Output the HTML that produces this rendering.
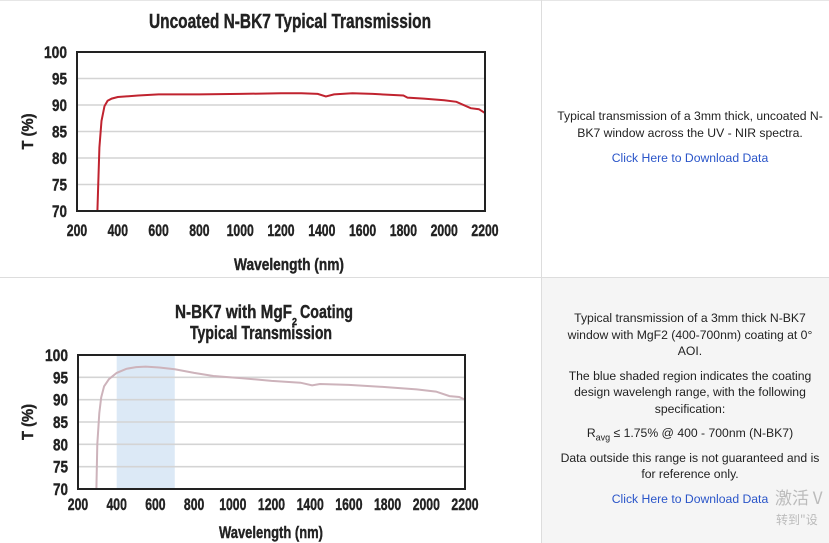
<!DOCTYPE html>
<html><head><meta charset="utf-8"><style>
body{margin:0;width:829px;height:543px;background:#fff;position:relative;overflow:hidden;font-family:"Liberation Sans",sans-serif}
.p{position:absolute;text-align:center;font-size:12.2px;color:#222;line-height:16.5px}
.p p{margin:0 0 8px 0}
sub{font-size:9px;line-height:0}
a{color:#2a55c9;text-decoration:none}
</style></head><body>
<div style="position:absolute;left:0;top:0;width:829px;height:1px;background:#e6e6e6"></div>
<div style="position:absolute;left:0;top:277px;width:829px;height:1px;background:#ddd"></div>
<div style="position:absolute;left:541px;top:0;width:1px;height:543px;background:#ddd"></div>
<div style="position:absolute;left:542px;top:278px;width:287px;height:265px;background:#f5f5f5"></div>
<div class="p" style="top:108px;left:552px;width:276px;">Typical transmission of a 3mm thick, uncoated N-BK7 window across the UV - NIR spectra.<p style="margin-top:9px"><a>Click Here to Download Data</a></p></div>
<div class="p" style="top:310px;left:558px;width:264px">
<p>Typical transmission of a 3mm thick N-BK7 window with MgF2 (400-700nm) coating at 0° AOI.</p>
<p>The blue shaded region indicates the coating design wavelengh range, with the following specification:</p>
<p>R<sub>avg</sub> ≤ 1.75% @ 400 - 700nm (N-BK7)</p>
<p>Data outside this range is not guaranteed and is for reference only.</p>
<p><a>Click Here to Download Data</a></p></div>
<div style="position:absolute;left:775px;top:484px;font-size:17px;color:#bbb;font-family:'Noto Sans CJK SC',sans-serif">激活 V</div>
<div style="position:absolute;left:776px;top:511px;font-size:12px;color:#bbb;font-family:'Noto Sans CJK SC',sans-serif">转到"设</div>
<svg id="s" width="829" height="543" style="position:absolute;left:0;top:0" font-family="Liberation Sans, sans-serif" font-weight="bold" fill="#222" stroke="#222" stroke-width="0.4"></svg>
<script>
const s=document.getElementById('s');let h='';
function T(x,y,fs,len,txt,anc){return `<text x="${x}" y="${y}" ${anc?'text-anchor="'+anc+'"':''} font-size="${fs}" textLength="${len}" lengthAdjust="spacingAndGlyphs">${txt}</text>`;}
function chart(x0,x1,y0,y1,labY,color,pts,shade,xlY){
 const X=w=>x0+(w-200)*(x1-x0)/2000, Y=t=>y1-(t-70)*(y1-y0)/30;
 if(shade)h+=`<rect x="${X(400)}" y="${y0}" width="${X(700)-X(400)}" height="${y1-y0}" fill="#dce9f6" stroke="none"/>`;
 for(let t=75;t<100;t+=5)h+=`<line x1="${x0}" x2="${x1}" y1="${Y(t)}" y2="${Y(t)}" stroke="#d4d4d4" stroke-width="1.6"/>`;
 for(let t=70;t<=100;t+=5)h+=T(x0-10,Y(t)+6,17,t==100?23:15,t,'end');
 for(let w=200;w<=2200;w+=200){const l=String(w).length;h+=T(X(w),xlY,17,l*6.8,w,'middle');}
 h+=`<polyline fill="none" stroke="${color}" stroke-width="2" points="${pts.map(p=>X(p[0]).toFixed(1)+','+Y(p[1]).toFixed(1)).join(' ')}"/>`;
 h+=`<rect x="${x0}" y="${y0}" width="${x1-x0}" height="${y1-y0}" fill="none" stroke="#222" stroke-width="2"/>`;
 h+=`<text transform="translate(${labY},${(y0+y1)/2}) rotate(-90)" text-anchor="middle" font-size="16" textLength="36" lengthAdjust="spacingAndGlyphs">T (%)</text>`;
}
chart(77,485,52,211,33,"#c0232f",[[300,70],[310,82],[320,87],[335,89.8],[350,90.8],[370,91.2],[400,91.5],[500,91.8],[600,92],[800,92],[1000,92.1],[1200,92.2],[1300,92.2],[1380,92.1],[1420,91.6],[1460,92],[1550,92.2],[1650,92.1],[1800,91.8],[1820,91.4],[1900,91.2],[2000,90.9],[2060,90.6],[2130,89.4],[2170,89.2],[2200,88.5]],false,236);
chart(78,465,355,489,33,"#cdb3bb",[[295,70],[300,80],[310,87],[320,90.5],[335,93],[360,94.6],[400,96],[450,96.9],[500,97.3],[550,97.4],[620,97.2],[700,96.8],[800,96],[900,95.3],[1050,94.8],[1200,94.2],[1350,93.8],[1410,93.2],[1450,93.5],[1600,93.3],[1800,92.8],[1950,92.3],[2050,91.8],[2120,90.8],[2170,90.6],[2200,90]],true,510);
h+=T(290,28,20,282,'Uncoated N-BK7 Typical Transmission','middle');
h+=T(289,270,17,110,'Wavelength (nm)','middle');
h+=T(175,318,18,117,'N-BK7 with MgF');
h+=T(292,325,10,5,'2');
h+=T(300,318,18,53,'Coating');
h+=T(261,339,18,142,'Typical Transmission','middle');
h+=T(271,538,17,104,'Wavelength (nm)','middle');
s.innerHTML=h;
</script>
</body></html>
